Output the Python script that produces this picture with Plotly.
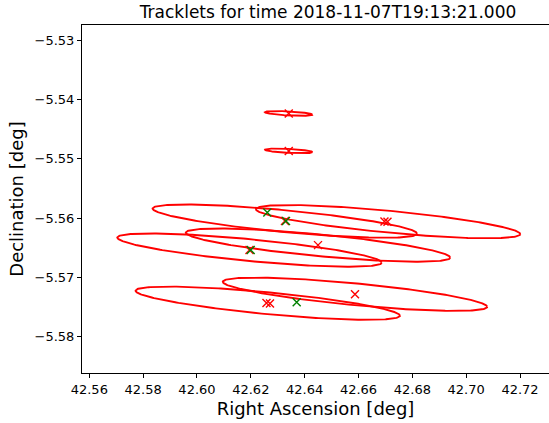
import numpy as np
import plotly.graph_objects as go

# Ellipse (uncertainty region) parameters, in degrees
ell_ra = [42.6341, 42.6341, 42.63262, 42.67100, 42.61951, 42.64496, 42.65870, 42.62631]
ell_dec = [-5.54234, -5.54866, -5.56050, -5.56059, -5.56539, -5.56455, -5.57284, -5.57435]
ell_half_ra = [0.00884, 0.00884, 0.04911, 0.04911, 0.04911, 0.04911, 0.04911, 0.04911]
ell_tilt = [-0.00021, -0.00021, -0.00211, -0.00211, -0.00211, -0.00211, -0.00211, -0.00211]
ell_half_dec = [0.00034, 0.00034, 0.00185, 0.00185, 0.00185, 0.00185, 0.00185, 0.00185]

# Tracklet positions (red x)
trk_ra = [42.6341, 42.6341, 42.63269, 42.66965, 42.67077, 42.61951, 42.64496, 42.65870, 42.62582, 42.62712]
trk_dec = [-5.54234, -5.54866, -5.56050, -5.56055, -5.56062, -5.56539, -5.56455, -5.57284, -5.57430, -5.57440]

# Reference positions (green x)
ref_ra = [42.62612, 42.63307, 42.61996, 42.63704]
ref_dec = [-5.55904, -5.56050, -5.56539, -5.57420]

title = "Tracklets for time 2018-11-07T19:13:21.000"
x_ticks = [42.56, 42.58, 42.60, 42.62, 42.64, 42.66, 42.68, 42.70, 42.72]
y_ticks = [-5.53, -5.54, -5.55, -5.56, -5.57, -5.58]

fig = go.Figure()
t = np.linspace(0, 2 * np.pi, 300)
for ra, de, hr, tl, hd in zip(ell_ra, ell_dec, ell_half_ra, ell_tilt, ell_half_dec):
    fig.add_trace(go.Scatter(
        x=ra + hr * np.cos(t),
        y=de + tl * np.cos(t) + hd * np.sin(t),
        mode="lines", line=dict(color="#ff0000", width=1.9),
        hoverinfo="skip", showlegend=False))

fig.add_trace(go.Scatter(
    x=trk_ra, y=trk_dec, mode="markers", showlegend=False,
    marker=dict(symbol="x-thin", size=8, line=dict(color="#ff0000", width=1.4))))
fig.add_trace(go.Scatter(
    x=ref_ra, y=ref_dec, mode="markers", showlegend=False,
    marker=dict(symbol="x-thin", size=8, line=dict(color="#008000", width=1.4))))

W, H = 549, 423
fig.update_layout(
    width=W, height=H,
    margin=dict(l=82, r=0, t=25, b=50),
    paper_bgcolor="white", plot_bgcolor="white",
    font=dict(family="DejaVu Sans", color="black", size=13),
    title=dict(text=title, x=328 / W, xref="container", xanchor="center",
               y=1 - 12 / H, yref="container", yanchor="middle",
               font=dict(size=17, family="DejaVu Sans")),
)
fig.update_xaxes(
    range=[42.55729, 42.73077], tickvals=x_ticks, tickformat=".2f",
    ticks="outside", ticklen=4, tickwidth=1, tickcolor="black",
    showline=True, linecolor="black", linewidth=1, mirror=True,
    showgrid=False, zeroline=False,
    title=dict(text="Right Ascension [deg]", font=dict(size=18), standoff=6),
)
fig.update_yaxes(
    range=[-5.58612, -5.52742], tickvals=y_ticks, tickformat=".2f",
    ticks="outside", ticklen=4, tickwidth=1, tickcolor="black",
    showline=True, linecolor="black", linewidth=1, mirror=False,
    showgrid=False, zeroline=False,
    title=dict(text="Declination [deg]", font=dict(size=18), standoff=6),
)

fig.write_html("out.html")
